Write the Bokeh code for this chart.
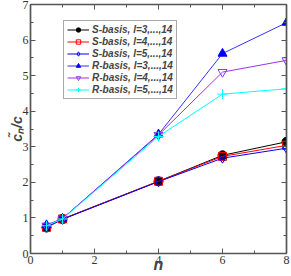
from bokeh.plotting import figure
from bokeh.models import LinearAxis, FixedTicker, Range1d, Legend, LegendItem
from bokeh.embed import file_html
from bokeh.resources import INLINE

n_vals = [0.5, 1, 4, 6, 8]
s_l3 = [0.73, 0.97, 2.03, 2.76, 3.14]
s_l4 = [0.73, 0.97, 2.03, 2.73, 3.04]
s_l5 = [0.75, 0.96, 2.02, 2.68, 2.96]
r_l3 = [0.80, 0.98, 3.35, 5.62, 6.49]
r_l4 = [0.78, 0.98, 3.33, 5.10, 5.43]
r_l5 = [0.78, 0.97, 3.29, 4.48, 4.63]
labels = ["S-basis, l=3,...,14", "S-basis, l=4,...,14", "S-basis, l=5,...,14",
          "R-basis, l=3,...,14", "R-basis, l=4,...,14", "R-basis, l=5,...,14"]
x_ticks = [0, 2, 4, 6, 8]
x_minor = [1, 3, 5, 7]
y_ticks = [0, 1, 2, 3, 4, 5, 6, 7]
y_minor = [0.5, 1.5, 2.5, 3.5, 4.5, 5.5, 6.5]

p = figure(width=291, height=276, output_backend="svg", toolbar_location=None,
           x_range=Range1d(0, 8), y_range=Range1d(0, 7),
           min_border_left=30, min_border_right=5, min_border_top=4, min_border_bottom=23,
           x_axis_type=None, y_axis_type=None)
p.xgrid.visible = False
p.ygrid.visible = False
p.outline_line_color = "#222222"
p.outline_line_width = 1.2
p.background_fill_color = "white"
p.border_fill_color = "white"

def style_axis(ax, ticks, minor, show_labels):
    ax.ticker = FixedTicker(ticks=ticks, minor_ticks=minor)
    ax.major_tick_in = 5
    ax.major_tick_out = 0
    ax.minor_tick_in = 3
    ax.minor_tick_out = 0
    ax.axis_line_color = "#555555"
    ax.axis_line_width = 1.5
    ax.major_tick_line_color = "#555555"
    ax.minor_tick_line_color = "#555555"
    ax.major_label_text_font = "Liberation Serif"
    ax.major_label_text_font_size = "12px"
    ax.major_label_text_color = "#333333"
    ax.major_label_standoff = 2
    if not show_labels:
        ax.major_label_overrides = {t: "" for t in ticks}
        ax.major_label_standoff = 0

xa = LinearAxis(axis_label="n")
style_axis(xa, x_ticks, x_minor, True)
xa.axis_label_text_font = "Liberation Sans"
xa.axis_label_text_font_style = "bold italic"
xa.axis_label_text_font_size = "16px"
xa.axis_label_standoff = -11
p.add_layout(xa, "below")

ya = LinearAxis(axis_label="c\u0303\u2099/c")
style_axis(ya, y_ticks, y_minor, True)
ya.axis_label_text_font = "Liberation Sans"
ya.axis_label_text_font_style = "bold italic"
ya.axis_label_text_font_size = "14px"
ya.axis_label_standoff = -5
p.add_layout(ya, "left")

xt = LinearAxis()
style_axis(xt, x_ticks, x_minor, False)
p.add_layout(xt, "above")
yr = LinearAxis()
style_axis(yr, y_ticks, y_minor, False)
p.add_layout(yr, "right")

series = [
    (s_l3, "black", "black", "circle", "black", 9),
    (s_l4, "red", "red", "square", None, 8),
    (s_l5, "blue", "blue", "diamond", None, 10),
    (r_l3, "#3333ff", "blue", "triangle", "blue", 9),
    (r_l4, "#9933ee", "#9933ee", "inverted_triangle", None, 9),
    (r_l5, "cyan", "cyan", "cross", None, 10),
]
items = []
for (ys, col, mcol, mk, fill, sz), lab in zip(series, labels):
    lr = p.line(n_vals, ys, line_color=col, line_width=1)
    sr = p.scatter(n_vals, ys, marker=mk, size=sz, line_color=mcol,
                   fill_color=fill if fill else "white", fill_alpha=1 if fill else 0,
                   line_width=1)
    items.append(LegendItem(label=lab, renderers=[lr, sr]))

leg = Legend(items=items, location=(33, 154))
leg.label_text_font = "Liberation Sans"
leg.label_text_font_style = "bold italic"
leg.label_text_font_size = "10px"
leg.label_height = 11
leg.glyph_height = 11
leg.glyph_width = 22
leg.spacing = 1
leg.padding = 3
leg.margin = 0
leg.label_standoff = 3
leg.border_line_color = "#555555"
leg.border_line_width = 1
leg.background_fill_alpha = 1
p.add_layout(leg, "center")

open("out.html", "w").write(file_html(p, INLINE))
